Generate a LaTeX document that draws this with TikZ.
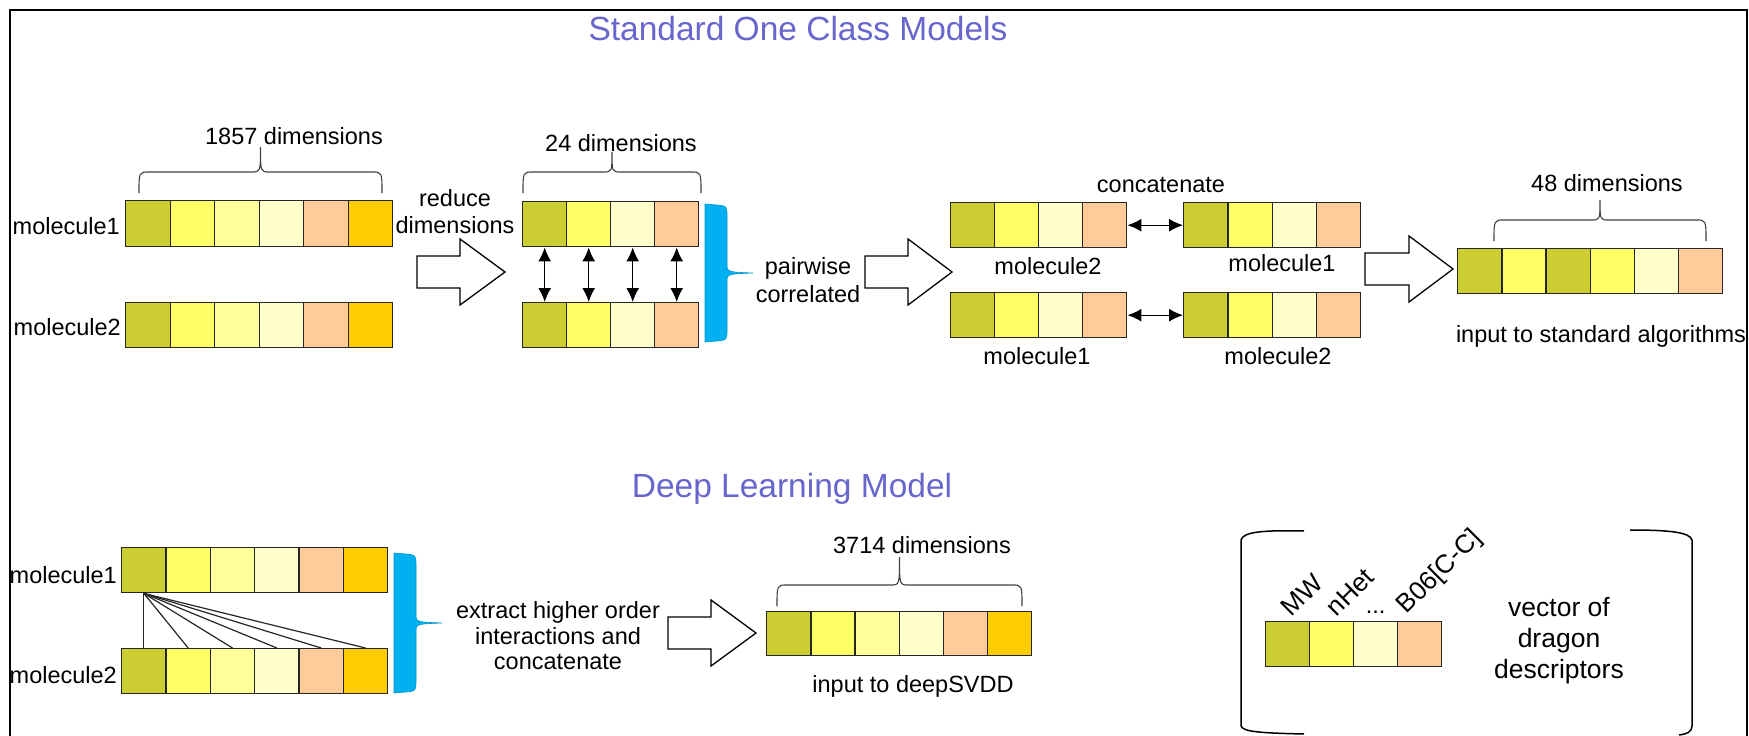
\documentclass[tikz,border=0pt]{standalone}
\usepackage{fontspec}
\setmainfont{Liberation Sans}
\usetikzlibrary{arrows.meta}
\definecolor{cOl}{HTML}{CCCC33}
\definecolor{cYe}{HTML}{FFFF66}
\definecolor{cLy}{HTML}{FFFF99}
\definecolor{cVl}{HTML}{FFFFCC}
\definecolor{cPe}{HTML}{FFCC99}
\definecolor{cOr}{HTML}{FFCC00}
\definecolor{cBlue}{HTML}{00B0F0}
\definecolor{titleblue}{RGB}{102,102,204}
\tikzset{
 cell/.style={draw=black!85, line width=1.4pt, inner sep=0pt, anchor=north west},
 lbl/.style={font=\fontsize{23.5}{28}\selectfont, inner sep=0pt},
 rlbl/.style={font=\fontsize{26}{30}\selectfont, inner sep=0pt},
 ttl/.style={font=\fontsize{33.5}{40}\selectfont, text=titleblue, inner sep=0pt},
 bigarr/.style={draw=black, line width=1.3pt, fill=white, line join=miter},
 brc/.style={draw=black!75, line width=1.1pt},
 bkt/.style={draw=black, line width=1.5pt},
 dbl/.style={{Latex[length=14pt,width=13pt]}-{Latex[length=14pt,width=13pt]}, line width=1.4pt},
 fan/.style={draw=black!85, line width=1.2pt},
 bluebr/.style={fill=cBlue, draw=cBlue!85!black, line width=0.6pt},
}
\newcommand\cellrow[6]{%
  \foreach \cc [count=\ii] in {#6}{%
    \node[cell, fill=\cc, minimum width=#4pt, minimum height=#5pt] (#1-\ii) at ({#2+(\ii-1)*#4},#3) {};
  }}
\newcommand\hbr[5]{%
  \draw[brc] (#1,#3) .. controls (#1,#4) .. ({#1+10},#4) -- ({(#1+#2)/2-9},#4)
    .. controls ({(#1+#2)/2},#4) .. ({(#1+#2)/2},#5)
    .. controls ({(#1+#2)/2},#4) .. ({(#1+#2)/2+9},#4) -- ({#2-10},#4)
    .. controls (#2,#4) .. (#2,#3);}
\newcommand\bluebrace[4]{%
  \path[bluebr] (#1,#2) -- ({#1+12},{#2+1}) .. controls ({#1+22},{#2+2}) .. ({#1+22},{#2+12})
    -- ({#1+22},{#4-9}) .. controls ({#1+22},{#4-1}) .. ({#1+48},#4)
    .. controls ({#1+22},{#4+1}) .. ({#1+22},{#4+9}) -- ({#1+22},{#3-12})
    .. controls ({#1+22},{#3-2}) .. ({#1+12},{#3-1}) -- (#1,#3) -- cycle;}
\newcommand\bigarrow[4]{%
  \draw[bigarr] (#1,{#4-16}) -- (#2,{#4-16}) -- (#2,{#4-33}) -- (#3,#4) -- (#2,{#4+33}) -- (#2,{#4+16}) -- (#1,{#4+16}) -- cycle;}
\begin{document}
\begin{tikzpicture}[x=1pt,y=-1pt]
\useasboundingbox (0,0) rectangle (1749,736);
\fill[white] (0,0) rectangle (1749,736);
% frame
\draw[line width=2.5pt] (10,736) -- (10,10) -- (1747,10) -- (1747,736);
% titles
\node[ttl] (t1) at (798,29) {Standard One Class Models};
\node[ttl] (t2) at (792,489) {Deep Learning Model};

% ---------- top section ----------
\cellrow{v1}{125}{200}{44.5}{46}{cOl,cYe,cLy,cVl,cPe,cOr}
\cellrow{v2}{125}{302}{44.5}{45}{cOl,cYe,cLy,cVl,cPe,cOr}
\node[lbl, anchor=east] (m1) at (120,226) {molecule1};
\node[lbl, anchor=east] (m2) at (121,327) {molecule2};
\hbr{139}{382}{193}{172}{147}
\node[lbl] (d1857) at (294,136) {1857 dimensions};

\node[lbl, align=center, font=\fontsize{23.5}{27}\selectfont] (red) at (455,212) {reduce\\dimensions};
\bigarrow{417}{460}{505}{272}

\cellrow{r1}{522}{201}{44}{45}{cOl,cYe,cVl,cPe}
\cellrow{r2}{522}{302}{44}{45}{cOl,cYe,cVl,cPe}
\foreach \i in {1,...,4} \draw[dbl] (r1-\i.south) -- (r2-\i.north);
\hbr{523}{701}{193}{172}{152}
\node[lbl] (d24) at (621,143) {24 dimensions};
\bluebrace{705}{204}{342}{273}

\node[lbl, align=center, font=\fontsize{23.5}{28}\selectfont] (pw) at (808,280) {pairwise\\correlated};
\bigarrow{865}{908}{952}{272}

\cellrow{c1}{950}{202}{44}{45}{cOl,cYe,cVl,cPe}
\cellrow{c2}{1183}{202}{44.25}{45}{cOl,cYe,cVl,cPe}
\cellrow{c3}{950}{292}{44}{45}{cOl,cYe,cVl,cPe}
\cellrow{c4}{1183}{292}{44.25}{45}{cOl,cYe,cVl,cPe}
\draw[dbl] (c1-4.east) -- (c2-1.west);
\draw[dbl] (c3-4.east) -- (c4-1.west);
\node[lbl] (cc) at (1161,185) {concatenate};
\node[lbl] (lc1) at (1048,266) {molecule2};
\node[lbl] (lc2) at (1282,263) {molecule1};
\node[lbl] (lc3) at (1037,356) {molecule1};
\node[lbl] (lc4) at (1278,356) {molecule2};

\bigarrow{1365}{1409}{1453}{269}
\cellrow{f}{1457}{248}{44.17}{45}{cOl,cYe,cOl,cYe,cVl,cPe}
\hbr{1494}{1706}{241}{220}{200}
\node[lbl] (d48) at (1607,183) {48 dimensions};
\node[lbl] (inp1) at (1601,336) {input to standard algorithms};

% ---------- bottom section ----------
\cellrow{b1}{121}{547}{44.33}{45}{cOl,cYe,cLy,cVl,cPe,cOr}
\cellrow{b2}{121}{648}{44.33}{45}{cOl,cYe,cLy,cVl,cPe,cOr}
\node[lbl, anchor=east] (bm1) at (117,575) {molecule1};
\node[lbl, anchor=east] (bm2) at (117,675) {molecule2};
\foreach \i in {1,...,6} \draw[fan] (b1-1.south) -- (b2-\i.north);
\bluebrace{394}{553}{693}{623}

\node[lbl, align=center, font=\fontsize{23.5}{25.5}\selectfont] (ex) at (558,636) {extract higher order\\interactions and\\concatenate};
\bigarrow{668}{711}{756}{633}
\cellrow{g}{766}{611}{44.17}{44}{cOl,cYe,cLy,cVl,cPe,cOr}
\hbr{777}{1022}{606}{585}{557}
\node[lbl] (d3714) at (922,545) {3714 dimensions};
\node[lbl] (inp2) at (913,686) {input to deepSVDD};

% legend bracket
\draw[bkt] (1304,531) .. controls (1262,530) and (1243,532) .. (1241,540) -- (1241,726) .. controls (1243,732) and (1262,733) .. (1304,734);
\draw[bkt] (1630,530) .. controls (1668,530) and (1690,532) .. (1692,540) -- (1692,726) .. controls (1692,732) and (1687,734) .. (1679,735);
\cellrow{s}{1265}{621}{44}{45}{cOl,cYe,cVl,cPe}
\node[rlbl, rotate=45, anchor=base west] (mw) at ([xshift=4pt,yshift=3pt]s-1.north) {MW};
\node[rlbl, rotate=45, anchor=base west] (nh) at ([xshift=5pt,yshift=3pt]s-2.north) {nHet};
\node[lbl, anchor=base] (dots) at ([yshift=8pt]s-3.north) {...};
\node[rlbl, rotate=45, anchor=base west] (b06) at ([xshift=-13pt,yshift=6pt]s-4.north) {B06[C-C]};
\node[font=\fontsize{26.5}{31}\selectfont, inner sep=0pt, align=center] (vd) at (1559,641) {vector of\\dragon\\descriptors};
\end{tikzpicture}
\end{document}
